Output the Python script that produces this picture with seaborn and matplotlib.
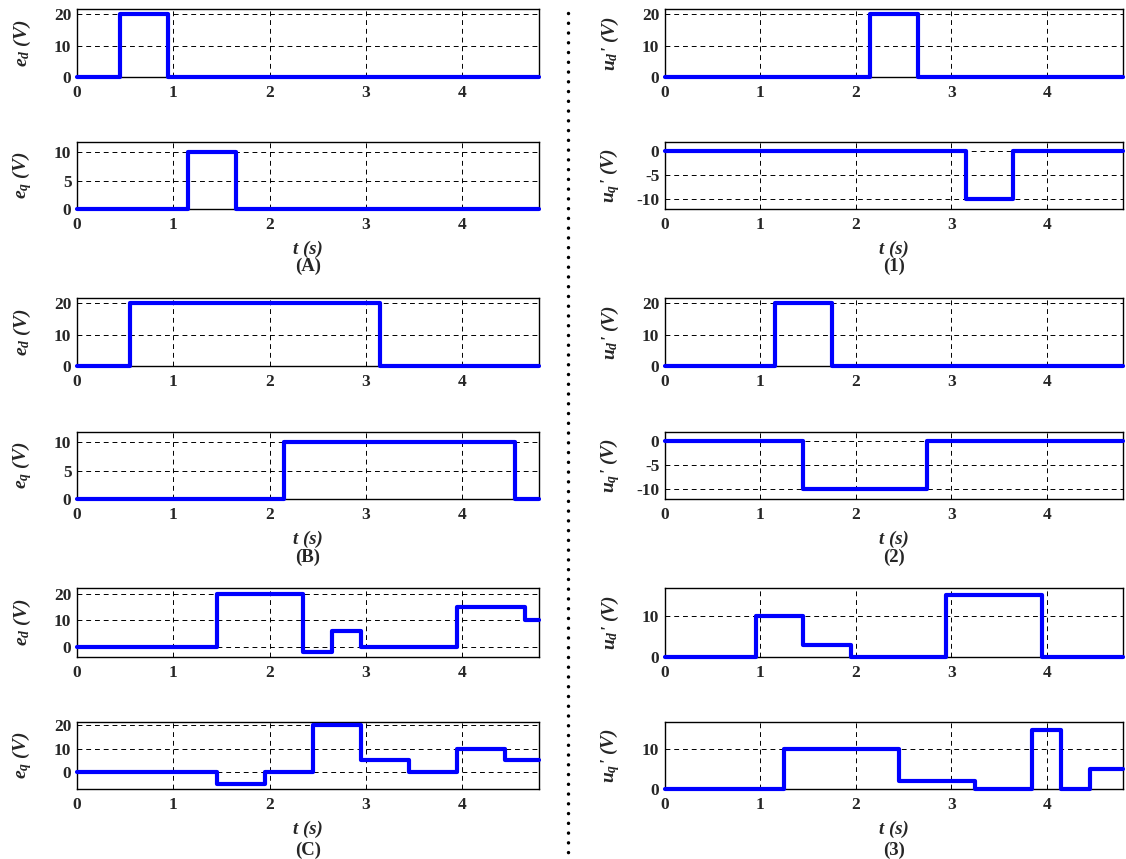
import numpy as np
import pandas as pd
import matplotlib
matplotlib.use("Agg")
import matplotlib.pyplot as plt
from matplotlib.lines import Line2D
import seaborn as sns

# ---------------- data (step breakpoints, values hold until next breakpoint) ----------------
A_ed_t = [0, 0.45, 0.95, 4.8]
A_ed_v = [0, 20, 0, 0]
A_eq_t = [0, 1.15, 1.65, 4.8]
A_eq_v = [0, 10, 0, 0]

B_ed_t = [0, 0.55, 3.15, 4.8]
B_ed_v = [0, 20, 0, 0]
B_eq_t = [0, 2.15, 4.55, 4.8]
B_eq_v = [0, 10, 0, 0]

C_ed_t = [0, 1.45, 2.35, 2.65, 2.95, 3.95, 4.65, 4.8]
C_ed_v = [0, 20, -2, 6, 0, 15, 10, 10]
C_eq_t = [0, 1.45, 1.95, 2.45, 2.95, 3.45, 3.95, 4.45, 4.8]
C_eq_v = [0, -5, 0, 20, 5, 0, 10, 5, 5]

P1_ud_t = [0, 2.15, 2.65, 4.8]
P1_ud_v = [0, 20, 0, 0]
P1_uq_t = [0, 3.15, 3.65, 4.8]
P1_uq_v = [0, -10, 0, 0]

P2_ud_t = [0, 1.15, 1.75, 4.8]
P2_ud_v = [0, 20, 0, 0]
P2_uq_t = [0, 1.45, 2.75, 4.8]
P2_uq_v = [0, -10, 0, 0]

P3_ud_t = [0, 0.95, 1.45, 1.95, 2.95, 3.95, 4.8]
P3_ud_v = [0, 10, 3, 0, 15, 0, 0]
P3_uq_t = [0, 1.25, 2.45, 3.25, 3.85, 4.15, 4.45, 4.8]
P3_uq_v = [0, 10, 2, 0, 15, 0, 5, 5]

x_ticks = [0, 1, 2, 3, 4]
panel_labels_left = ["(A)", "(B)", "(C)"]
panel_labels_right = ["(1)", "(2)", "(3)"]
xlabel_text = "t (s)"
ylabel_ed = r"$e_d$ (V)"
ylabel_eq = r"$e_q$ (V)"
ylabel_ud = r"$u_d$' (V)"
ylabel_uq = r"$u_q$' (V)"

# ---------------- style ----------------
sns.set_style("white")
plt.rcParams["font.family"] = ["Liberation Serif", "DejaVu Serif"]
plt.rcParams["font.weight"] = "bold"
plt.rcParams["axes.unicode_minus"] = False
plt.rcParams["mathtext.fontset"] = "custom"
plt.rcParams["mathtext.it"] = "Liberation Serif:italic:bold"
plt.rcParams["mathtext.rm"] = "Liberation Serif:bold"
plt.rcParams["mathtext.bf"] = "Liberation Serif:bold"

W, H = 1126, 859
fig = plt.figure(figsize=(W / 100, H / 100), dpi=100)

col_x = [(77, 539), (665, 1123)]
row_y = [(9, 77), (142, 209), (298, 366), (432, 499), (588, 657), (722, 789)]

panels = [
    # (col, row, t, v, ylim, yticks, ylabel)
    (0, 0, A_ed_t, A_ed_v, (0, 21.6), [0, 10, 20], ylabel_ed),
    (0, 1, A_eq_t, A_eq_v, (0, 11.8), [0, 5, 10], ylabel_eq),
    (0, 2, B_ed_t, B_ed_v, (0, 21.6), [0, 10, 20], ylabel_ed),
    (0, 3, B_eq_t, B_eq_v, (0, 11.8), [0, 5, 10], ylabel_eq),
    (0, 4, C_ed_t, C_ed_v, (-4, 22.3), [0, 10, 20], ylabel_ed),
    (0, 5, C_eq_t, C_eq_v, (-7.2, 21.3), [0, 10, 20], ylabel_eq),
    (1, 0, P1_ud_t, P1_ud_v, (0, 21.6), [0, 10, 20], ylabel_ud),
    (1, 1, P1_uq_t, P1_uq_v, (-12.1, 1.8), [-10, -5, 0], ylabel_uq),
    (1, 2, P2_ud_t, P2_ud_v, (0, 21.6), [0, 10, 20], ylabel_ud),
    (1, 3, P2_uq_t, P2_uq_v, (-12.1, 1.8), [-10, -5, 0], ylabel_uq),
    (1, 4, P3_ud_t, P3_ud_v, (0, 16.8), [0, 10], ylabel_ud),
    (1, 5, P3_uq_t, P3_uq_v, (0, 16.9), [0, 10], ylabel_uq),
]

axes = {}
for col, row, t, v, ylim, yticks, ylab in panels:
    x0, x1 = col_x[col]
    y0, y1 = row_y[row]
    ax = fig.add_axes([x0 / W, 1 - y1 / H, (x1 - x0) / W, (y1 - y0) / H])
    axes[(col, row)] = ax
    df = pd.DataFrame({"t": t, "v": v})
    sns.lineplot(data=df, x="t", y="v", ax=ax, drawstyle="steps-post",
                 color=(0, 0, 1), linewidth=3.0, estimator=None, sort=False,
                 clip_on=False, zorder=5)
    ax.set_xlim(0, 4.8)
    ax.set_ylim(*ylim)
    ax.set_xticks(x_ticks)
    ax.set_yticks(yticks)
    ax.grid(True, color="black", linestyle=(0, (5, 4)), linewidth=0.7)
    for s in ax.spines.values():
        s.set_color("black")
        s.set_linewidth(1.0)
        s.set_visible(True)
    ax.tick_params(axis="both", length=0, labelsize=12.5)
    ax.tick_params(axis="x", pad=6)
    ax.tick_params(axis="y", pad=4)
    for lab in ax.get_xticklabels() + ax.get_yticklabels():
        lab.set_fontweight("bold")
    ax.set_ylabel(ylab, fontsize=14, fontstyle="italic", fontweight="bold",
                  va="center")
    ax.yaxis.set_label_coords(-55 / (x1 - x0), 0.5)
    if row % 2 == 1:
        ax.set_xlabel(xlabel_text, fontsize=13.5, fontstyle="italic",
                      fontweight="bold", va="center")
        ax.xaxis.set_label_coords(0.5, -(249 - 209) / (y1 - y0))
    else:
        ax.set_xlabel("")

# panel labels
panel_y = [266, 557, 850]
for i in range(3):
    for col, labs in enumerate([panel_labels_left, panel_labels_right]):
        x0, x1 = col_x[col]
        fig.text((x0 + x1) / 2 / W, 1 - panel_y[i] / H, labs[i], ha="center",
                 va="center", fontsize=13.5, fontweight="bold")

# vertical dotted separator
sep = Line2D([568 / W, 568 / W], [1 - 13 / H, 0.0], transform=fig.transFigure,
             color="black", linewidth=2.5, linestyle=(0, (0.01, 2.8)),
             dash_capstyle="round")
fig.add_artist(sep)

fig.savefig("out.png", dpi=100)
